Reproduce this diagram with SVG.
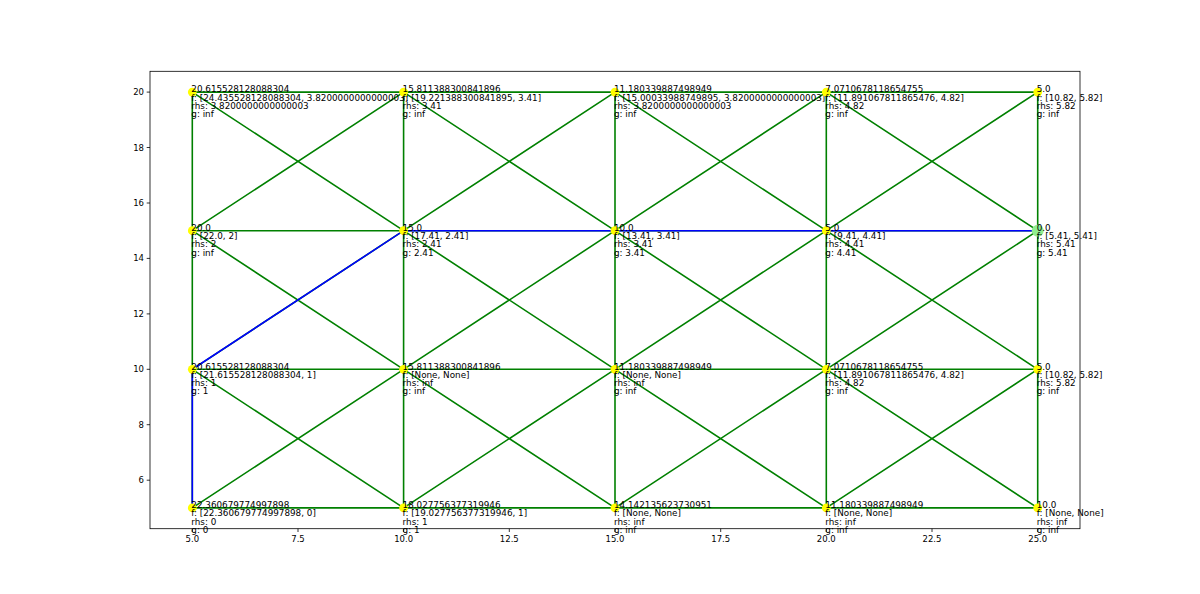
<svg xmlns="http://www.w3.org/2000/svg" width="1200" height="594" viewBox="0 0 1200 594">
<style>
.g{stroke:#008000;stroke-width:1.6;fill:none}
.b{stroke:#0000ff;stroke-width:1.6;fill:none}
.n{fill:#ffff00}
.goal{fill:#90ee90}
.lbl{font-family:"DejaVu Sans",sans-serif;font-size:8.8px;fill:#000}
.tk{font-family:"DejaVu Sans",sans-serif;font-size:8.5px;fill:#000}
.tick{stroke:#000;stroke-width:0.8}
</style>
<rect width="1200" height="594" fill="#fff"/>
<g id="axes">
<rect x="150" y="71.3" width="930" height="457.4" fill="none" stroke="#000" stroke-width="0.8"/>
<g class="tick">
<line x1="192.3" y1="528.7" x2="192.3" y2="532"/><line x1="298" y1="528.7" x2="298" y2="532"/><line x1="403.6" y1="528.7" x2="403.6" y2="532"/><line x1="509.3" y1="528.7" x2="509.3" y2="532"/><line x1="615" y1="528.7" x2="615" y2="532"/><line x1="720.7" y1="528.7" x2="720.7" y2="532"/><line x1="826.3" y1="528.7" x2="826.3" y2="532"/><line x1="932" y1="528.7" x2="932" y2="532"/><line x1="1037.7" y1="528.7" x2="1037.7" y2="532"/>
<line x1="150" y1="480.2" x2="146.7" y2="480.2"/><line x1="150" y1="424.7" x2="146.7" y2="424.7"/><line x1="150" y1="369.3" x2="146.7" y2="369.3"/><line x1="150" y1="313.9" x2="146.7" y2="313.9"/><line x1="150" y1="258.4" x2="146.7" y2="258.4"/><line x1="150" y1="203" x2="146.7" y2="203"/><line x1="150" y1="147.5" x2="146.7" y2="147.5"/><line x1="150" y1="92.1" x2="146.7" y2="92.1"/>
</g>
<g class="tk" text-anchor="middle">
<text x="192.3" y="541.5">5.0</text><text x="298" y="541.5">7.5</text><text x="403.6" y="541.5">10.0</text><text x="509.3" y="541.5">12.5</text><text x="615" y="541.5">15.0</text><text x="720.7" y="541.5">17.5</text><text x="826.3" y="541.5">20.0</text><text x="932" y="541.5">22.5</text><text x="1037.7" y="541.5">25.0</text>
</g>
<g class="tk" text-anchor="end">
<text x="144" y="483.2">6</text><text x="144" y="427.7">8</text><text x="144" y="372.3">10</text><text x="144" y="316.9">12</text><text x="144" y="261.4">14</text><text x="144" y="206">16</text><text x="144" y="150.5">18</text><text x="144" y="95.1">20</text>
</g>
</g>
<g id="connectors">
<g class="g">
<path d="M192.3 92.1H1037.7M192.3 230.7H1037.7M192.3 369.3H1037.7M192.3 507.9H1037.7"/>
<path d="M192.3 92.1V507.9M403.6 92.1V507.9M615 92.1V507.9M826.3 92.1V507.9M1037.7 92.1V507.9"/>
<path d="M192.3 92.1L403.6 230.7M403.6 92.1L192.3 230.7M403.6 92.1L615 230.7M615 92.1L403.6 230.7M615 92.1L826.3 230.7M826.3 92.1L615 230.7M826.3 92.1L1037.7 230.7M1037.7 92.1L826.3 230.7"/>
<path d="M192.3 230.7L403.6 369.3M403.6 230.7L192.3 369.3M403.6 230.7L615 369.3M615 230.7L403.6 369.3M615 230.7L826.3 369.3M826.3 230.7L615 369.3M826.3 230.7L1037.7 369.3M1037.7 230.7L826.3 369.3"/>
<path d="M192.3 369.3L403.6 507.9M403.6 369.3L192.3 507.9M403.6 369.3L615 507.9M615 369.3L403.6 507.9M615 369.3L826.3 507.9M826.3 369.3L615 507.9M826.3 369.3L1037.7 507.9M1037.7 369.3L826.3 507.9"/>
</g>
<path class="b" d="M192.3 507.9L192.3 369.3L403.6 230.7L1037.7 230.7"/>
</g>
<g id="nodes">
<g id="n-5-20"><circle class="n" cx="192.3" cy="92.1" r="4.4"/><text class="lbl" x="191.3" y="92.4">20.615528128088304<tspan x="191.3" dy="8.2">f: [24.435528128088304, 3.8200000000000003]</tspan><tspan x="191.3" dy="8.2">rhs: 3.8200000000000003</tspan><tspan x="191.3" dy="8.2">g: inf</tspan></text></g>
<g id="n-10-20"><circle class="n" cx="403.6" cy="92.1" r="4.4"/><text class="lbl" x="402.6" y="92.4">15.811388300841896<tspan x="402.6" dy="8.2">f: [19.221388300841895, 3.41]</tspan><tspan x="402.6" dy="8.2">rhs: 3.41</tspan><tspan x="402.6" dy="8.2">g: inf</tspan></text></g>
<g id="n-15-20"><circle class="n" cx="615" cy="92.1" r="4.4"/><text class="lbl" x="614" y="92.4">11.180339887498949<tspan x="614" dy="8.2">f: [15.00033988749895, 3.8200000000000003]</tspan><tspan x="614" dy="8.2">rhs: 3.8200000000000003</tspan><tspan x="614" dy="8.2">g: inf</tspan></text></g>
<g id="n-20-20"><circle class="n" cx="826.3" cy="92.1" r="4.4"/><text class="lbl" x="825.3" y="92.4">7.0710678118654755<tspan x="825.3" dy="8.2">f: [11.891067811865476, 4.82]</tspan><tspan x="825.3" dy="8.2">rhs: 4.82</tspan><tspan x="825.3" dy="8.2">g: inf</tspan></text></g>
<g id="n-25-20"><circle class="n" cx="1037.7" cy="92.1" r="4.4"/><text class="lbl" x="1036.7" y="92.4">5.0<tspan x="1036.7" dy="8.2">f: [10.82, 5.82]</tspan><tspan x="1036.7" dy="8.2">rhs: 5.82</tspan><tspan x="1036.7" dy="8.2">g: inf</tspan></text></g>
<g id="n-5-15"><circle class="n" cx="192.3" cy="230.7" r="4.4"/><text class="lbl" x="191.3" y="231">20.0<tspan x="191.3" dy="8.2">f: [22.0, 2]</tspan><tspan x="191.3" dy="8.2">rhs: 2</tspan><tspan x="191.3" dy="8.2">g: inf</tspan></text></g>
<g id="n-10-15"><circle class="n" cx="403.6" cy="230.7" r="4.4"/><text class="lbl" x="402.6" y="231">15.0<tspan x="402.6" dy="8.2">f: [17.41, 2.41]</tspan><tspan x="402.6" dy="8.2">rhs: 2.41</tspan><tspan x="402.6" dy="8.2">g: 2.41</tspan></text></g>
<g id="n-15-15"><circle class="n" cx="615" cy="230.7" r="4.4"/><text class="lbl" x="614" y="231">10.0<tspan x="614" dy="8.2">f: [13.41, 3.41]</tspan><tspan x="614" dy="8.2">rhs: 3.41</tspan><tspan x="614" dy="8.2">g: 3.41</tspan></text></g>
<g id="n-20-15"><circle class="n" cx="826.3" cy="230.7" r="4.4"/><text class="lbl" x="825.3" y="231">5.0<tspan x="825.3" dy="8.2">f: [9.41, 4.41]</tspan><tspan x="825.3" dy="8.2">rhs: 4.41</tspan><tspan x="825.3" dy="8.2">g: 4.41</tspan></text></g>
<g id="n-25-15"><circle class="goal" cx="1037.7" cy="230.7" r="6"/><text class="lbl" x="1036.7" y="231">0.0<tspan x="1036.7" dy="8.2">f: [5.41, 5.41]</tspan><tspan x="1036.7" dy="8.2">rhs: 5.41</tspan><tspan x="1036.7" dy="8.2">g: 5.41</tspan></text></g>
<g id="n-5-10"><circle class="n" cx="192.3" cy="369.3" r="4.4"/><text class="lbl" x="191.3" y="369.6">20.615528128088304<tspan x="191.3" dy="8.2">f: [21.615528128088304, 1]</tspan><tspan x="191.3" dy="8.2">rhs: 1</tspan><tspan x="191.3" dy="8.2">g: 1</tspan></text></g>
<g id="n-10-10"><circle class="n" cx="403.6" cy="369.3" r="4.4"/><text class="lbl" x="402.6" y="369.6">15.811388300841896<tspan x="402.6" dy="8.2">f: [None, None]</tspan><tspan x="402.6" dy="8.2">rhs: inf</tspan><tspan x="402.6" dy="8.2">g: inf</tspan></text></g>
<g id="n-15-10"><circle class="n" cx="615" cy="369.3" r="4.4"/><text class="lbl" x="614" y="369.6">11.180339887498949<tspan x="614" dy="8.2">f: [None, None]</tspan><tspan x="614" dy="8.2">rhs: inf</tspan><tspan x="614" dy="8.2">g: inf</tspan></text></g>
<g id="n-20-10"><circle class="n" cx="826.3" cy="369.3" r="4.4"/><text class="lbl" x="825.3" y="369.6">7.0710678118654755<tspan x="825.3" dy="8.2">f: [11.891067811865476, 4.82]</tspan><tspan x="825.3" dy="8.2">rhs: 4.82</tspan><tspan x="825.3" dy="8.2">g: inf</tspan></text></g>
<g id="n-25-10"><circle class="n" cx="1037.7" cy="369.3" r="4.4"/><text class="lbl" x="1036.7" y="369.6">5.0<tspan x="1036.7" dy="8.2">f: [10.82, 5.82]</tspan><tspan x="1036.7" dy="8.2">rhs: 5.82</tspan><tspan x="1036.7" dy="8.2">g: inf</tspan></text></g>
<g id="n-5-5"><circle class="n" cx="192.3" cy="507.9" r="4.4"/><text class="lbl" x="191.3" y="508.2">22.360679774997898<tspan x="191.3" dy="8.2">f: [22.360679774997898, 0]</tspan><tspan x="191.3" dy="8.2">rhs: 0</tspan><tspan x="191.3" dy="8.2">g: 0</tspan></text></g>
<g id="n-10-5"><circle class="n" cx="403.6" cy="507.9" r="4.4"/><text class="lbl" x="402.6" y="508.2">18.027756377319946<tspan x="402.6" dy="8.2">f: [19.027756377319946, 1]</tspan><tspan x="402.6" dy="8.2">rhs: 1</tspan><tspan x="402.6" dy="8.2">g: 1</tspan></text></g>
<g id="n-15-5"><circle class="n" cx="615" cy="507.9" r="4.4"/><text class="lbl" x="614" y="508.2">14.142135623730951<tspan x="614" dy="8.2">f: [None, None]</tspan><tspan x="614" dy="8.2">rhs: inf</tspan><tspan x="614" dy="8.2">g: inf</tspan></text></g>
<g id="n-20-5"><circle class="n" cx="826.3" cy="507.9" r="4.4"/><text class="lbl" x="825.3" y="508.2">11.180339887498949<tspan x="825.3" dy="8.2">f: [None, None]</tspan><tspan x="825.3" dy="8.2">rhs: inf</tspan><tspan x="825.3" dy="8.2">g: inf</tspan></text></g>
<g id="n-25-5"><circle class="n" cx="1037.7" cy="507.9" r="4.4"/><text class="lbl" x="1036.7" y="508.2">10.0<tspan x="1036.7" dy="8.2">f: [None, None]</tspan><tspan x="1036.7" dy="8.2">rhs: inf</tspan><tspan x="1036.7" dy="8.2">g: inf</tspan></text></g>
</g>
</svg>
